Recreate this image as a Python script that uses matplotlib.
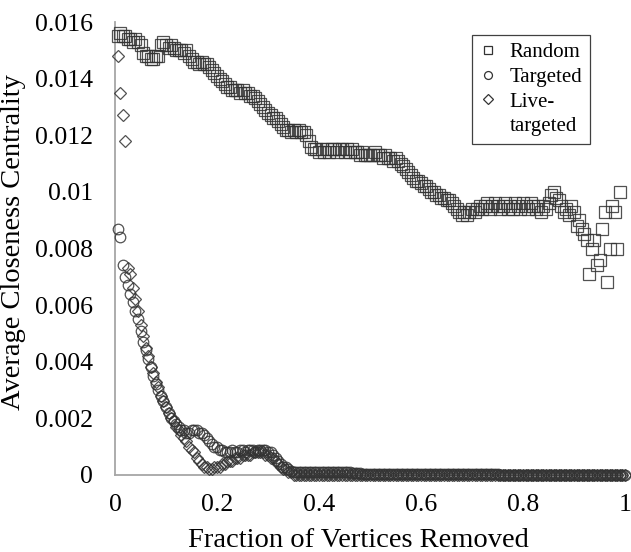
import numpy as np
import matplotlib
matplotlib.use("Agg")
import matplotlib.pyplot as plt
from matplotlib.lines import Line2D

plt.rcParams["font.family"] = ["Liberation Serif", "DejaVu Serif"]

# fraction of vertices removed advances by this much per step
STEP = 0.005

random_cc = [
    0.0155, 0.0156, 0.0155, 0.0155, 0.0154, 0.0154, 0.0153, 0.0154, 0.0153, 0.0152,
    0.0149, 0.0148, 0.0148, 0.0147, 0.0147, 0.0148, 0.0148, 0.0152, 0.0153, 0.0152,
    0.0151, 0.0152, 0.0151, 0.0150, 0.0150, 0.0150, 0.0149, 0.0150, 0.0148, 0.0147,
    0.0146, 0.0146, 0.0145, 0.0146, 0.0145, 0.0145, 0.0144, 0.0143, 0.0142, 0.0141,
    0.0140, 0.0139, 0.0138, 0.0137, 0.0137, 0.0136, 0.0136, 0.0136, 0.0135, 0.0136,
    0.0135, 0.0135, 0.0134, 0.0134, 0.0133, 0.0132, 0.0131, 0.0130, 0.0129, 0.0128,
    0.0127, 0.0126, 0.0126, 0.0125, 0.0124, 0.0123, 0.0122, 0.0122, 0.0121, 0.0122,
    0.0121, 0.0122, 0.0121, 0.0121, 0.0120, 0.0118, 0.0116, 0.0115, 0.0115, 0.0114,
    0.0115, 0.0114, 0.0115, 0.0114, 0.0115, 0.0115, 0.0114, 0.0115, 0.0115, 0.0114,
    0.0115, 0.0114, 0.0115, 0.0114, 0.0114, 0.0113, 0.0114, 0.0113, 0.0113, 0.0113,
    0.0113, 0.0114, 0.0113, 0.0113, 0.0112, 0.0113, 0.0112, 0.0112, 0.0111, 0.0112,
    0.0111, 0.0110, 0.0109, 0.0108, 0.0107, 0.0106, 0.0105, 0.0104, 0.0104, 0.0103,
    0.0102, 0.0102, 0.0101, 0.0100, 0.0100, 0.0099, 0.0099, 0.0098, 0.0098, 0.0097,
    0.0097, 0.0096, 0.0095, 0.0094, 0.0093, 0.0092, 0.0093, 0.0092, 0.0093, 0.0094,
    0.0093, 0.0094, 0.0095, 0.0094, 0.0095, 0.0096, 0.0094, 0.0095, 0.0096, 0.0095,
    0.0094, 0.0095, 0.0096, 0.0094, 0.0095, 0.0094, 0.0096, 0.0095, 0.0094, 0.0096,
    0.0095, 0.0094, 0.0096, 0.0095, 0.0094, 0.0095, 0.0093, 0.0095, 0.0094, 0.0096,
    0.0099, 0.0100, 0.0098, 0.0097, 0.0095, 0.0093, 0.0094, 0.0092, 0.0095, 0.0093,
    0.0088, 0.0090, 0.0087, 0.0085, 0.0083, 0.0071, 0.0080, 0.0083, 0.0074, 0.0076,
    0.0087, 0.0093, 0.0068, 0.0080, 0.0095, 0.0093, 0.0080, 0.0100,
]

targeted_cc = [
    0.0087, 0.0084, 0.0074, 0.0070, 0.0067, 0.0064, 0.0061, 0.0058, 0.0055, 0.0051,
    0.0047, 0.0044, 0.0041, 0.0038, 0.0035, 0.0032, 0.0030, 0.0028, 0.0026, 0.0024,
    0.0022, 0.0020, 0.0019, 0.0018, 0.0017, 0.0016, 0.0016, 0.0015, 0.0015, 0.0016,
    0.0016, 0.0016, 0.0015, 0.0015, 0.0014, 0.0013, 0.0012, 0.0011, 0.0010, 0.0010,
    0.0009, 0.0009, 0.0008, 0.0008, 0.0008, 0.0009, 0.0008, 0.0008, 0.0009, 0.0009,
    0.0008, 0.0009, 0.0009, 0.0009, 0.0008, 0.0009, 0.0009, 0.0009, 0.0009, 0.0008,
    0.0008, 0.0007, 0.0006, 0.0005, 0.0004, 0.0003, 0.0003, 0.0002, 0.00015, 0.00012,
    0.00012, 0.0001, 0.00012, 0.0001, 0.00011, 0.0001, 0.00012, 0.0001, 0.00011, 0.0001,
    0.00011, 0.0001, 0.00012, 0.0001, 0.0001, 0.00011, 0.0001, 0.0001, 0.00011, 0.0001,
    0.0001, 0.00009, 0.00008, 0.00008, 0.00007, 0.00006, 0.00005, 0.00005, 0.00004, 0.00004,
    0.00003, 0.00003, 0.00003, 0.00002, 0.00002, 0.00002, 0.00002, 0.00002, 0.00002, 0.00002,
    0.00002, 0.00002, 0.00002, 0.00002, 0.00002, 0.00002, 0.00002, 0.00002, 0.00002, 0.00002,
    0.00002, 0.00002, 0.00002, 0.00002, 0.00002, 0.00002, 0.00002, 0.00002, 0.00002, 0.00002,
    0.00002, 0.00002, 0.00002, 0.00002, 0.00002, 0.00002, 0.00002, 0.00002, 0.00002, 0.00002,
    0.00002, 0.00002, 0.00002, 0.00002, 0.00002, 0.00002, 0.00002, 0.00002, 0.00002, 0.00002,
    0.00001, 0.00001, 0.00001, 0.00001, 0.00001, 0.00001, 0.00001, 0.00001, 0.00001, 0.00001,
    0.00001, 0.00001, 0.00001, 0.00001, 0.00001, 0.00001, 0.00001, 0.00001, 0.00001, 0.00001,
    0.00001, 0.00001, 0.00001, 0.00001, 0.00001, 0.00001, 0.00001, 0.00001, 0.00001, 0.00001,
    0.0, 0.0, 0.0, 0.0, 0.0, 0.0, 0.0, 0.0, 0.0, 0.0,
    0.0, 0.0, 0.0, 0.0, 0.0, 0.0, 0.0, 0.0, 0.0, 0.0,
]

live_targeted_cc = [
    0.0148, 0.0135, 0.0127, 0.0118, 0.0073, 0.0071, 0.0066, 0.0062, 0.0058, 0.0053,
    0.0049, 0.0045, 0.0042, 0.0038, 0.0036, 0.0033, 0.0031, 0.0028, 0.0026, 0.0024,
    0.0022, 0.0020, 0.0019, 0.0017, 0.0016, 0.0014, 0.0013, 0.0012, 0.0010, 0.0009,
    0.0008, 0.0006, 0.0005, 0.0004, 0.0003, 0.0003, 0.0002, 0.0002, 0.0003, 0.0003,
    0.0003, 0.0004, 0.0004, 0.0005, 0.0005, 0.0005, 0.0006, 0.0006, 0.0006, 0.0007,
    0.0007, 0.0007, 0.0007, 0.0008, 0.0008, 0.0008, 0.0008, 0.0008, 0.0007, 0.0007,
    0.0006, 0.0006, 0.0005, 0.0004, 0.0003, 0.0002, 0.0002, 0.0001, 0.0001, 0.0,
    0.0, 0.0, 0.0, 0.0, 0.0, 0.0, 0.0, 0.0, 0.0, 0.0,
    0.0, 0.0, 0.0, 0.0, 0.0, 0.0, 0.0, 0.0, 0.0, 0.0,
    0.0, 0.0, 0.0, 0.0, 0.0, 0.0, 0.0, 0.0, 0.0, 0.0,
    0.0, 0.0, 0.0, 0.0, 0.0, 0.0, 0.0, 0.0, 0.0, 0.0,
    0.0, 0.0, 0.0, 0.0, 0.0, 0.0, 0.0, 0.0, 0.0, 0.0,
    0.0, 0.0, 0.0, 0.0, 0.0, 0.0, 0.0, 0.0, 0.0, 0.0,
    0.0, 0.0, 0.0, 0.0, 0.0, 0.0, 0.0, 0.0, 0.0, 0.0,
    0.0, 0.0, 0.0, 0.0, 0.0, 0.0, 0.0, 0.0, 0.0, 0.0,
    0.0, 0.0, 0.0, 0.0, 0.0, 0.0, 0.0, 0.0, 0.0, 0.0,
    0.0, 0.0, 0.0, 0.0, 0.0, 0.0, 0.0, 0.0, 0.0, 0.0,
    0.0, 0.0, 0.0, 0.0, 0.0, 0.0, 0.0, 0.0, 0.0, 0.0,
    0.0, 0.0, 0.0, 0.0, 0.0, 0.0, 0.0, 0.0, 0.0, 0.0,
    0.0, 0.0, 0.0, 0.0, 0.0, 0.0, 0.0, 0.0, 0.0, 0.0,
]

x_ticks = [0, 0.2, 0.4, 0.6, 0.8, 1]
x_tick_labels = ["0", "0.2", "0.4", "0.6", "0.8", "1"]
y_ticks = [0, 0.002, 0.004, 0.006, 0.008, 0.01, 0.012, 0.014, 0.016]
y_tick_labels = ["0", "0.002", "0.004", "0.006", "0.008", "0.01", "0.012", "0.014", "0.016"]

EDGE = "#333333"
AXIS = "#a6a6a6"


def frac(vals):
    return STEP * np.arange(1, len(vals) + 1)


fig = plt.figure(figsize=(6.31, 5.52), dpi=100)
ax = fig.add_axes([0.1823, 0.1395, 0.8082, 0.8206])

common = dict(linestyle="none", mfc="none", mec=EDGE, mew=0.9, alpha=0.85, clip_on=False)
h_rand, = ax.plot(frac(random_cc), random_cc, marker="s", ms=8.2, label="Random", **common)
h_targ, = ax.plot(frac(targeted_cc), targeted_cc, marker="o", ms=7.6, label="Targeted", **common)
h_live, = ax.plot(frac(live_targeted_cc), live_targeted_cc, marker="D", ms=6.4,
                  label="Live-", **common)
# second line of the "Live-targeted" legend entry, no marker of its own
h_cont = Line2D([], [], linestyle="none", marker="none", label="targeted")

ax.set_xlim(0, 1)
ax.set_ylim(0, 0.016)
ax.set_xticks(x_ticks)
ax.set_xticklabels(x_tick_labels)
ax.set_yticks(y_ticks)
ax.set_yticklabels(y_tick_labels)
ax.tick_params(axis="both", length=0, labelsize=18.5)
ax.tick_params(axis="x", pad=14)
ax.tick_params(axis="y", pad=16)

for side in ("top", "right"):
    ax.spines[side].set_visible(False)
for side in ("left", "bottom"):
    ax.spines[side].set_color(AXIS)
    ax.spines[side].set_linewidth(1.3)
    ax.spines[side].set_zorder(0)

ax.set_xlabel("Fraction of Vertices Removed", fontsize=20.5)
ax.set_ylabel("Average Closeness Centrality", fontsize=20.5)
ax.xaxis.set_label_coords(0.478, -0.118)
ax.yaxis.set_label_coords(-0.175, 0.515)

leg = ax.legend(handles=[h_rand, h_targ, h_live, h_cont], loc="upper left",
                bbox_to_anchor=(0.700, 0.971), borderaxespad=0, fontsize=15,
                frameon=True, fancybox=False, edgecolor="#404040", framealpha=1,
                handlelength=0.8, handletextpad=0.65, borderpad=0.35,
                labelspacing=0.25, markerscale=0.75)
leg.get_frame().set_linewidth(0.9)
for lh in leg.legend_handles:
    lh.set_alpha(1)

fig.savefig("out.png", dpi=100)
